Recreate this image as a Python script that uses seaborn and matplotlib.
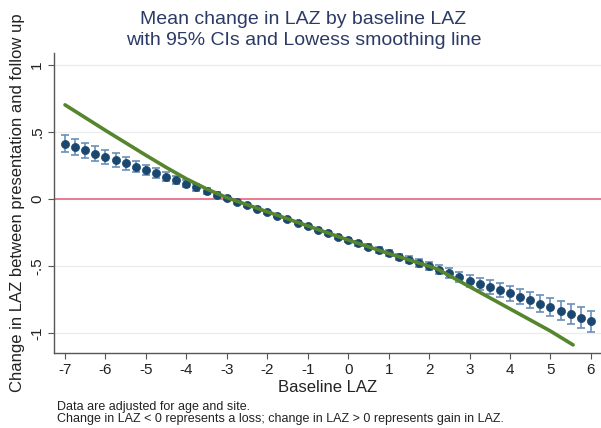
import numpy as np
import pandas as pd
import matplotlib
matplotlib.use("Agg")
import matplotlib.pyplot as plt
import seaborn as sns

# Baseline LAZ bins and adjusted mean change with 95% CI half-widths
baseline_laz = [-7.00, -6.75, -6.50, -6.25, -6.00, -5.75, -5.50, -5.25, -5.00,
                -4.75, -4.50, -4.25, -4.00, -3.75, -3.50, -3.25, -3.00, -2.75,
                -2.50, -2.25, -2.00, -1.75, -1.50, -1.25, -1.00, -0.75, -0.50,
                -0.25, 0.00, 0.25, 0.50, 0.75, 1.00, 1.25, 1.50, 1.75, 2.00,
                2.25, 2.50, 2.75, 3.00, 3.25, 3.50, 3.75, 4.00, 4.25, 4.50,
                4.75, 5.00, 5.25, 5.50, 5.75, 6.00]
mean_change = [0.410, 0.388, 0.362, 0.338, 0.312, 0.290, 0.265, 0.240, 0.216,
               0.192, 0.166, 0.140, 0.115, 0.088, 0.060, 0.032, 0.006, -0.020,
               -0.046, -0.072, -0.098, -0.124, -0.150, -0.176, -0.202, -0.228,
               -0.254, -0.280, -0.305, -0.330, -0.355, -0.380, -0.405, -0.430,
               -0.453, -0.475, -0.500, -0.527, -0.553, -0.580, -0.608, -0.632,
               -0.655, -0.678, -0.702, -0.726, -0.752, -0.778, -0.804, -0.830,
               -0.856, -0.882, -0.910]
ci_half = [0.064, 0.061, 0.058, 0.055, 0.052, 0.049, 0.046, 0.043, 0.040,
           0.037, 0.034, 0.031, 0.028, 0.025, 0.022, 0.019, 0.016, 0.014,
           0.012, 0.011, 0.010, 0.010, 0.010, 0.010, 0.011, 0.012, 0.013,
           0.014, 0.015, 0.016, 0.018, 0.020, 0.022, 0.024, 0.026, 0.028,
           0.031, 0.034, 0.037, 0.040, 0.043, 0.046, 0.049, 0.052, 0.055,
           0.058, 0.061, 0.064, 0.067, 0.070, 0.073, 0.076, 0.079]

# Lowess smoothing line
lowess_x = [-7.0, -6.0, -5.0, -4.5, -4.0, -3.5, -3.0, -2.0, -1.0, 0.0, 1.0,
            2.0, 2.2, 3.0, 4.0, 5.0, 5.56]
lowess_y = [0.700, 0.510, 0.325, 0.235, 0.150, 0.075, 0.010, -0.095, -0.200,
            -0.305, -0.405, -0.500, -0.520, -0.652, -0.817, -0.982, -1.085]

x_ticks = [-7, -6, -5, -4, -3, -2, -1, 0, 1, 2, 3, 4, 5, 6]
y_ticks = [-1, -0.5, 0, 0.5, 1]
y_tick_labels = ["-1", "-.5", "0", ".5", "1"]

points = pd.DataFrame({"baseline": baseline_laz, "change": mean_change,
                       "ci": ci_half})
smooth = pd.DataFrame({"baseline": lowess_x, "change": lowess_y})

sns.set_theme(style="white")
plt.rcParams["font.family"] = ["Liberation Sans", "DejaVu Sans"]

navy = "#1a476f"
bar_col = "#6b8fb8"
green = "#55862d"
title_col = "#2c3b66"
axis_col = "#555555"

fig = plt.figure(figsize=(6.01, 4.28), dpi=100)
ax = fig.add_axes([0.090, 0.175, 0.910, 0.701])

for yv in y_ticks:
    ax.axhline(yv, color="#ececec", lw=0.9, zorder=0)
ax.axhline(0, color="#e5728a", lw=1.3, zorder=1)

ax.errorbar(points["baseline"], points["change"], yerr=points["ci"],
            fmt="none", ecolor=bar_col, elinewidth=1.2, capsize=3.0,
            capthick=1.2, zorder=2)
sns.scatterplot(data=points, x="baseline", y="change", ax=ax, color=navy,
                s=34, edgecolor=navy, linewidth=0.5, zorder=3)
sns.lineplot(data=smooth, x="baseline", y="change", ax=ax, color=green,
             lw=2.6, zorder=4, sort=False)

ax.set_xlim(-7.27, 6.25)
ax.set_ylim(-1.146, 1.085)
ax.set_xticks(x_ticks)
ax.set_xticklabels([str(t) for t in x_ticks])
ax.set_yticks(y_ticks)
ax.set_yticklabels(y_tick_labels, rotation=90, va="center")

ax.tick_params(axis="both", direction="out", length=4, width=0.8,
               color=axis_col, labelsize=11, labelcolor="#222222", pad=3,
               left=True, bottom=True)
for side in ("top", "right"):
    ax.spines[side].set_visible(False)
for side in ("left", "bottom"):
    ax.spines[side].set_color(axis_col)
    ax.spines[side].set_linewidth(1.0)

ax.set_xlabel("Baseline LAZ", fontsize=12, color="#222222", labelpad=2)
ax.set_ylabel("Change in LAZ between presentation and follow up",
              fontsize=12, color="#222222", labelpad=4)

fig.text(0.505, 0.955, "Mean change in LAZ by baseline LAZ", ha="center",
         va="center", fontsize=14, color=title_col)
fig.text(0.505, 0.905, "with 95% CIs and Lowess smoothing line", ha="center",
         va="center", fontsize=14, color=title_col)

fig.text(0.095, 0.050, "Data are adjusted for age and site.", fontsize=9,
         color="#222222", va="center")
fig.text(0.095, 0.020,
         "Change in LAZ < 0 represents a loss; change in LAZ > 0 represents gain in LAZ.",
         fontsize=9, color="#222222", va="center")

fig.savefig("out.png", dpi=100, facecolor="white")
